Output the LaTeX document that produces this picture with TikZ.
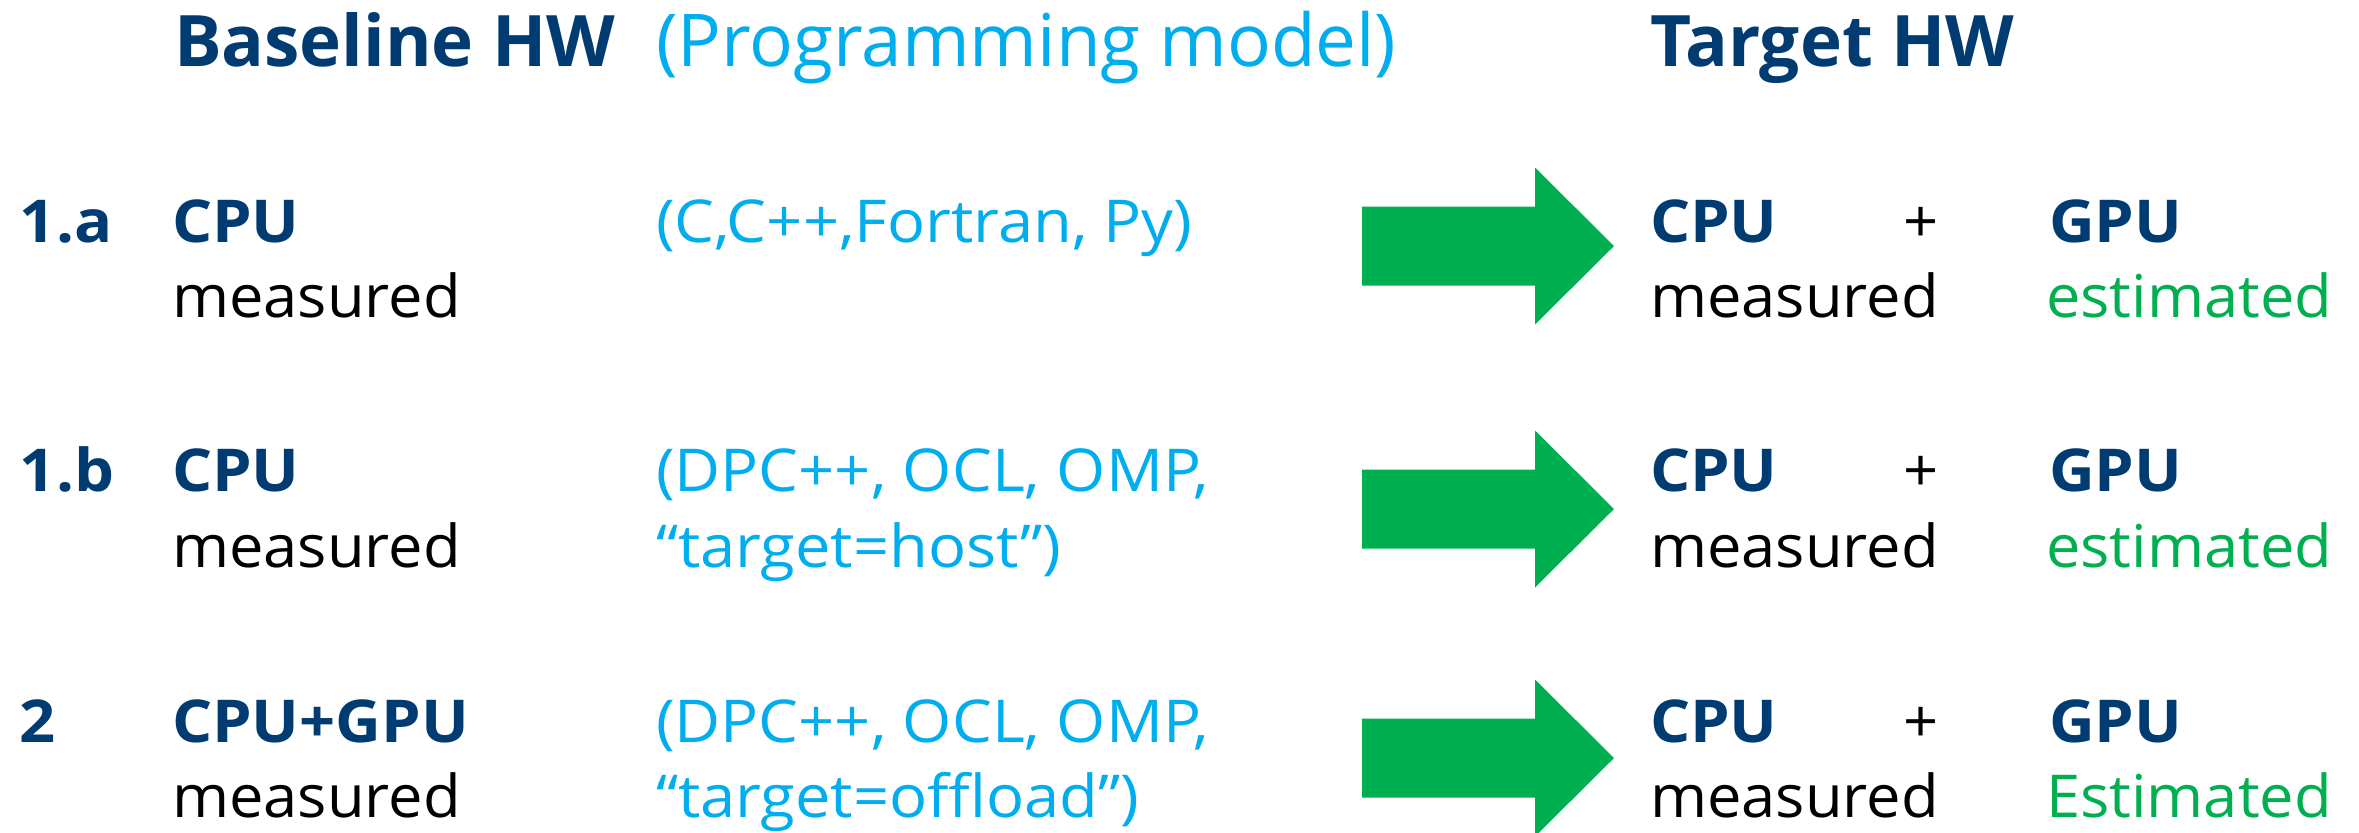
\documentclass[tikz,border=0pt]{standalone}
\usepackage{fontspec}
\setmainfont{Open Sans}
\newfontfamily\regbody[FakeStretch=1.04]{Open Sans}
\newfontfamily\pmbody[FakeStretch=1.07]{Open Sans}
\newfontfamily\boldbody[FakeStretch=1.07]{Open Sans}
\definecolor{hwblue}{HTML}{003C71}
\definecolor{pmblue}{HTML}{00AEEF}
\definecolor{estgreen}{HTML}{00B050}
\newcommand\flowarrow[1]{%
  \fill[estgreen] (1362,#1-39.5) -- (1535,#1-39.5) -- (1535,#1-78.5) --
    (1614,#1) -- (1535,#1+78.5) -- (1535,#1+39.5) -- (1362,#1+39.5) -- cycle;}
\begin{document}
\begin{tikzpicture}[x=0.01cm,y=-0.01cm,
  txt/.style={anchor=base west,inner sep=0pt,outer sep=0pt,font=\regbody\fontsize{16.8}{20}\selectfont},
  head/.style={anchor=base west,inner sep=0pt,outer sep=0pt,font=\fontsize{20.7}{25}\selectfont},
  hw/.style={text=hwblue,font=\boldbody\fontsize{16.8}{20}\selectfont\bfseries},
  hwhead/.style={head,text=hwblue,font=\fontsize{20.2}{25}\selectfont\bfseries},
  pm/.style={txt,text=pmblue,font=\pmbody\fontsize{16.8}{20}\selectfont},
  meas/.style={txt,text=black},
  est/.style={txt,text=estgreen}]
\useasboundingbox[fill=white] (0,0) rectangle (2359,832);

% column headings
\node[hwhead] (hbase) at (174,66) {Baseline HW};
\node[head,text=pmblue] (hprog) at (656,66) {(Programming model)};
\node[hwhead] (htarget) at (1650,66) {Target HW};

% conversion arrows
\flowarrow{246}
\flowarrow{509}
\flowarrow{758}

% row 1.a
\node[txt,hw] (l1a) at (20,242) {1.a};
\node[txt,hw] (b1a) at (172,242) {CPU};
\node[meas] (m1a) at (172,317) {measured};
\node[pm] (p1a) at (656,242) {(C,C++,Fortran, Py)};
\node[txt,hw] (tc1a) at (1650,242) {CPU};
\node[txt] (pl1a) at (1903,242) {+};
\node[txt,hw] (tg1a) at (2049,242) {GPU};
\node[meas] (tm1a) at (1650,317) {measured};
\node[est] (te1a) at (2046,317) {estimated};

% row 1.b
\node[txt,hw] (l1b) at (20,491) {1.b};
\node[txt,hw] (b1b) at (172,491) {CPU};
\node[meas] (m1b) at (172,567) {measured};
\node[pm] (p1b) at (656,491) {(DPC++, OCL, OMP,};
\node[pm] (q1b) at (656,567) {“target=host”)};
\node[txt,hw] (tc1b) at (1650,491) {CPU};
\node[txt] (pl1b) at (1903,491) {+};
\node[txt,hw] (tg1b) at (2049,491) {GPU};
\node[meas] (tm1b) at (1650,567) {measured};
\node[est] (te1b) at (2046,567) {estimated};

% row 2
\node[txt,hw] (l2) at (20,742) {2};
\node[txt,hw] (b2) at (172,742) {CPU+GPU};
\node[meas] (m2) at (172,817) {measured};
\node[pm] (p2) at (656,742) {(DPC++, OCL, OMP,};
\node[pm] (q2) at (656,817) {“target=offload”)};
\node[txt,hw] (tc2) at (1650,742) {CPU};
\node[txt] (pl2) at (1903,742) {+};
\node[txt,hw] (tg2) at (2049,742) {GPU};
\node[meas] (tm2) at (1650,817) {measured};
\node[est] (te2) at (2046,817) {Estimated};
\end{tikzpicture}
\end{document}
